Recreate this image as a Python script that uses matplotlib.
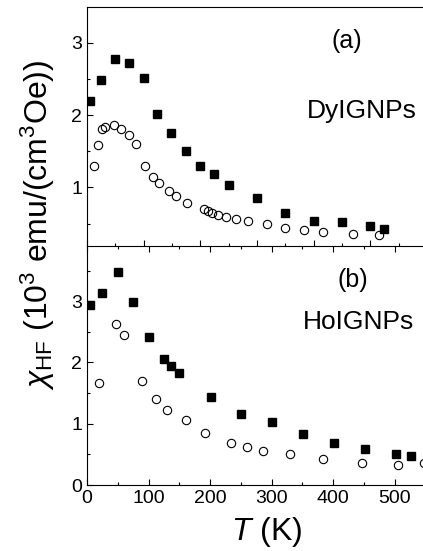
import numpy as np
import matplotlib
matplotlib.use('Agg')
import matplotlib.pyplot as plt
from matplotlib.ticker import MultipleLocator

plt.rcParams['font.family'] = ['Liberation Sans', 'DejaVu Sans']
plt.rcParams['mathtext.fontset'] = 'custom'
plt.rcParams['mathtext.rm'] = 'Liberation Sans'
plt.rcParams['mathtext.it'] = 'Liberation Sans:italic'

# (a) DyIGNPs
T_dy_sq = [5, 25, 49, 75, 100, 124, 148, 175, 199, 224, 250, 300, 350, 400, 450, 500, 524]
chi_dy_sq = [2.20, 2.49, 2.78, 2.72, 2.51, 2.02, 1.75, 1.50, 1.29, 1.19, 1.03, 0.86, 0.65,
             0.54, 0.52, 0.47, 0.43]
T_dy_ci = [13, 19, 27, 32, 47, 60, 74, 86, 102, 117, 127, 144, 157, 177, 206, 213, 221,
           231, 246, 263, 284, 317, 350, 383, 416, 469, 516]
chi_dy_ci = [1.29, 1.58, 1.81, 1.84, 1.86, 1.81, 1.72, 1.60, 1.30, 1.15, 1.06, 0.95, 0.88,
             0.79, 0.70, 0.67, 0.65, 0.62, 0.59, 0.56, 0.53, 0.49, 0.44, 0.41, 0.38, 0.35, 0.34]

# (b) HoIGNPs
T_ho_sq = [5, 25, 51, 75, 100, 125, 137, 150, 201, 251, 301, 351, 402, 452, 502, 527]
chi_ho_sq = [2.94, 3.13, 3.47, 2.98, 2.42, 2.06, 1.94, 1.82, 1.44, 1.16, 1.02, 0.83, 0.69,
             0.59, 0.51, 0.47]
T_ho_ci = [20, 47, 60, 89, 112, 130, 161, 191, 234, 260, 286, 330, 384, 447, 505, 548]
chi_ho_ci = [1.67, 2.63, 2.44, 1.69, 1.40, 1.22, 1.06, 0.85, 0.69, 0.62, 0.55, 0.51, 0.42,
             0.36, 0.32, 0.36]

fig = plt.figure(figsize=(4.23, 5.51), dpi=100)
L = 87/423
ax1 = fig.add_axes([L, 1-246/551, 1-L, (246-7.3)/551])
ax2 = fig.add_axes([L, 1-485/551, 1-L, (485-246)/551])

ms = 6
ax1.plot(T_dy_sq, chi_dy_sq, 's', color='k', ms=ms, mec='k')
ax1.plot(T_dy_ci, chi_dy_ci, 'o', mfc='none', mec='k', ms=ms, mew=0.8)
ax2.plot(T_ho_sq, chi_ho_sq, 's', color='k', ms=ms, mec='k')
ax2.plot(T_ho_ci, chi_ho_ci, 'o', mfc='none', mec='k', ms=ms, mew=0.8, clip_on=False)

ax1.set_xlim(0, 593)
ax1.set_ylim(0.19, 3.49)
ax2.set_xlim(0, 546)
ax2.set_ylim(0, 3.9)

for ax in (ax1, ax2):
    ax.spines['right'].set_visible(False)
    for s in ax.spines.values():
        s.set_linewidth(0.8)
    ax.xaxis.set_major_locator(MultipleLocator(100))
    ax.xaxis.set_minor_locator(MultipleLocator(50))
    ax.yaxis.set_major_locator(MultipleLocator(1))
    ax.yaxis.set_minor_locator(MultipleLocator(0.5))
    ax.tick_params(which='both', direction='in', labelsize=14, width=0.8, right=False)
    ax.tick_params(which='major', length=4)
    ax.tick_params(which='minor', length=2.5)

ax1.tick_params(which='both', labelbottom=False, top=False)
ax2.tick_params(which='both', top=True)
ax1.spines['bottom'].set_visible(False)

ax1.text(459, 3.02, '(a)', fontsize=18, ha='center', va='center')
ax1.text(485, 2.05, 'DyIGNPs', fontsize=19, ha='center', va='center')
ax2.text(432, 3.34, '(b)', fontsize=18, ha='center', va='center')
ax2.text(441, 2.66, 'HoIGNPs', fontsize=19, ha='center', va='center')

fig.text(38/423, 1-225/551, r'$\chi_{\mathrm{HF}}$ (10$^3$ emu/(cm$^3$Oe))',
         rotation=90, fontsize=23, ha='center', va='center')
fig.text(267/423, 1-532/551, r'$\mathit{T}$ (K)', fontsize=23, ha='center', va='center')

fig.savefig('out.png', dpi=100)
